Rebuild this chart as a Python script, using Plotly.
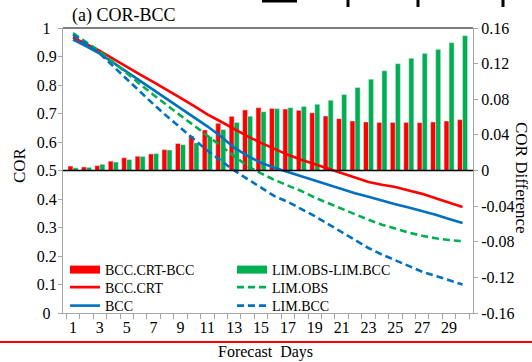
import plotly.graph_objects as go

days = list(range(1, 31))
tick_days = list(range(1, 30, 2))

bcc_crt = [0.967, 0.944, 0.920, 0.892, 0.863, 0.836, 0.810, 0.784, 0.755, 0.727,
           0.697, 0.672, 0.645, 0.620, 0.597, 0.575, 0.555, 0.538, 0.522, 0.507,
           0.490, 0.474, 0.460, 0.450, 0.442, 0.430, 0.418, 0.403, 0.388, 0.372]
bcc = [0.959, 0.936, 0.910, 0.878, 0.846, 0.815, 0.784, 0.752, 0.720, 0.686,
       0.655, 0.620, 0.580, 0.551, 0.527, 0.510, 0.495, 0.479, 0.465, 0.450,
       0.435, 0.420, 0.408, 0.394, 0.382, 0.370, 0.358, 0.345, 0.330, 0.316]
lim_obs = [0.982, 0.950, 0.918, 0.880, 0.840, 0.803, 0.765, 0.728, 0.693, 0.658,
           0.622, 0.585, 0.548, 0.515, 0.490, 0.467, 0.447, 0.428, 0.405, 0.385,
           0.365, 0.347, 0.327, 0.310, 0.295, 0.282, 0.271, 0.262, 0.256, 0.252]
lim_bcc = [0.976, 0.945, 0.910, 0.865, 0.820, 0.775, 0.732, 0.690, 0.650, 0.610,
           0.570, 0.535, 0.500, 0.470, 0.440, 0.410, 0.390, 0.365, 0.340, 0.312,
           0.285, 0.255, 0.228, 0.205, 0.185, 0.163, 0.145, 0.130, 0.115, 0.100]
diff_crt = [0.005, 0.004, 0.0055, 0.0105, 0.0143, 0.016, 0.0186, 0.0235, 0.0303, 0.0388,
            0.0455, 0.053, 0.0608, 0.068, 0.0706, 0.0697, 0.069, 0.0676, 0.0648, 0.0612,
            0.0582, 0.0556, 0.0545, 0.054, 0.054, 0.054, 0.0537, 0.0545, 0.0556, 0.0571]
diff_lim = [0.003, 0.0035, 0.007, 0.0095, 0.0123, 0.0158, 0.019, 0.023, 0.029, 0.031,
            0.038, 0.046, 0.054, 0.061, 0.066, 0.0695, 0.0706, 0.072, 0.0744, 0.0789,
            0.0853, 0.0932, 0.1025, 0.112, 0.12, 0.126, 0.1315, 0.136, 0.1435, 0.1514]

left_ticks = [0, 0.1, 0.2, 0.3, 0.4, 0.5, 0.6, 0.7, 0.8, 0.9, 1]
left_labels = ["0", "0.1", "0.2", "0.3", "0.4", "0.5", "0.6", "0.7", "0.8", "0.9", "1"]
right_ticks = [-0.16, -0.12, -0.08, -0.04, 0, 0.04, 0.08, 0.12, 0.16]
right_labels = ["-0.16", "-0.12", "-0.08", "-0.04", "0", "0.04", "0.08", "0.12", "0.16"]

RED = "#FF0000"
GREEN = "#00B050"
BLUE = "#0070C0"
FONT = "Liberation Serif"
AXC = "#A6A6A6"

W, H = 532, 362
L, R, T, B = 63, 59, 28, 49
pw, ph = W - L - R, H - T - B


def px(x):
    return (x - L) / pw


def py(y):
    return (H - B - y) / ph


# single-character labels sit centred under the wider "0.x" labels
left_text = [t + "\u2009\u2009" if len(t) == 1 else t for t in left_labels]

fig = go.Figure()

# bars on the right (difference) axis -> drawn first (below lines)
fig.add_trace(go.Bar(x=days, y=diff_crt, marker_color=RED, name="BCC.CRT-BCC",
                     showlegend=False, yaxis="y"))
fig.add_trace(go.Bar(x=days, y=diff_lim, marker_color=GREEN, name="LIM.OBS-LIM.BCC",
                     showlegend=False, yaxis="y"))

# lines on left COR axis
fig.add_trace(go.Scatter(x=days, y=bcc_crt, mode="lines", name="BCC.CRT",
                         line=dict(color=RED, width=2.6), yaxis="y2", legend="legend2"))
fig.add_trace(go.Scatter(x=days, y=bcc, mode="lines", name="BCC",
                         line=dict(color=BLUE, width=2.6), yaxis="y2", legend="legend3"))
fig.add_trace(go.Scatter(x=days, y=lim_obs, mode="lines", name="LIM.OBS",
                         line=dict(color=GREEN, width=2.6, dash="7px,4px"), yaxis="y2",
                         legend="legend5"))
fig.add_trace(go.Scatter(x=days, y=lim_bcc, mode="lines", name="LIM.BCC",
                         line=dict(color=BLUE, width=2.6, dash="7px,4px"), yaxis="y2",
                         legend="legend6"))

# legend-only entries for the bars (wide thick swatches)
fig.add_trace(go.Scatter(x=[None], y=[None], mode="lines", name="BCC.CRT-BCC",
                         line=dict(color=RED, width=8), yaxis="y2", legend="legend"))
fig.add_trace(go.Scatter(x=[None], y=[None], mode="lines", name="LIM.OBS-LIM.BCC",
                         line=dict(color=GREEN, width=8), yaxis="y2", legend="legend4"))

row_tops = [254, 271.5, 290]
col_x = [65, 232]


def leg(cx, ry):
    return dict(x=px(cx), y=py(ry), xanchor="left", yanchor="top",
                bgcolor="rgba(0,0,0,0)", font=dict(size=14), itemwidth=30)


fig.update_layout(
    width=W, height=H,
    margin=dict(l=L, r=R, t=T, b=B),
    paper_bgcolor="white", plot_bgcolor="white",
    font=dict(family=FONT, size=16, color="black"),
    barmode="group", bargap=0.25, bargroupgap=0,
    xaxis=dict(range=[0.255, 30.78], tickmode="array", tickvals=tick_days,
               ticktext=[str(d) for d in tick_days], showgrid=False, zeroline=False,
               showline=True, linecolor=AXC, linewidth=1, ticks="", ticklen=0,
               minor=dict(tickmode="array", tickvals=[d + 0.5 for d in range(0, 31)],
                          ticks="outside", ticklen=5, tickcolor=AXC, showgrid=False),
               tickfont=dict(size=16)),
    yaxis=dict(range=[-0.16, 0.16], side="right", tickmode="array",
               tickvals=right_ticks, ticktext=right_labels, showgrid=False,
               zeroline=False, showline=True, linecolor=AXC, ticks="outside",
               ticklen=4, tickcolor=AXC, tickfont=dict(size=16)),
    yaxis2=dict(range=[0, 1], side="left", overlaying="y", tickmode="array",
                tickvals=left_ticks, ticktext=left_text, showgrid=False,
                zeroline=False, showline=True, linecolor=AXC, ticks="outside",
                ticklen=4, tickcolor=AXC, tickfont=dict(size=16),
                ticklabelstandoff=-2),
    legend=leg(col_x[0], row_tops[0]),
    legend2=leg(col_x[0], row_tops[1]),
    legend3=leg(col_x[0], row_tops[2]),
    legend4=leg(col_x[1], row_tops[0]),
    legend5=leg(col_x[1], row_tops[1]),
    legend6=leg(col_x[1], row_tops[2]),
    showlegend=True,
)

shapes = [
    dict(type="line", xref="paper", yref="y", x0=0, x1=1, y0=0, y1=0,
         line=dict(color="black", width=1.5), layer="above"),
    dict(type="line", xref="paper", yref="paper", x0=0, x1=1, y0=1, y1=1,
         line=dict(color="black", width=1.2)),
    dict(type="line", xref="paper", yref="paper", x0=px(0), x1=px(W), y0=py(342), y1=py(342),
         line=dict(color=RED, width=2)),
    dict(type="rect", xref="paper", yref="paper", x0=px(262), x1=px(297), y0=py(2.5), y1=py(0),
         line=dict(width=0), fillcolor="black"),
    dict(type="line", xref="paper", yref="paper", x0=px(348), x1=px(348), y0=py(7), y1=py(0),
         line=dict(color="black", width=3)),
    dict(type="line", xref="paper", yref="paper", x0=px(418), x1=px(418), y0=py(7), y1=py(0),
         line=dict(color="black", width=3)),
    dict(type="line", xref="paper", yref="paper", x0=px(503), x1=px(503), y0=py(7), y1=py(0),
         line=dict(color="black", width=3)),
]
fig.update_layout(shapes=shapes)

annotations = [
    dict(text="(a) COR-BCC", xref="paper", yref="paper", x=px(70), y=py(15),
         xanchor="left", yanchor="middle", showarrow=False, font=dict(size=18)),
    dict(text="COR", xref="paper", yref="paper", x=px(19), y=py(165),
         xanchor="center", yanchor="middle", textangle=-90, showarrow=False,
         font=dict(size=17)),
    dict(text="COR Difference", xref="paper", yref="paper", x=px(522), y=py(178),
         xanchor="center", yanchor="middle", textangle=90, showarrow=False,
         font=dict(size=17)),
    dict(text="Forecast  Days", xref="paper", yref="paper", x=px(265), y=py(352),
         xanchor="center", yanchor="middle", showarrow=False, font=dict(size=16)),
]
fig.update_layout(annotations=annotations)

fig.write_html("out.html", config={"displayModeBar": False},
               post_script="document.body.style.margin='0';document.body.style.padding='0';")
